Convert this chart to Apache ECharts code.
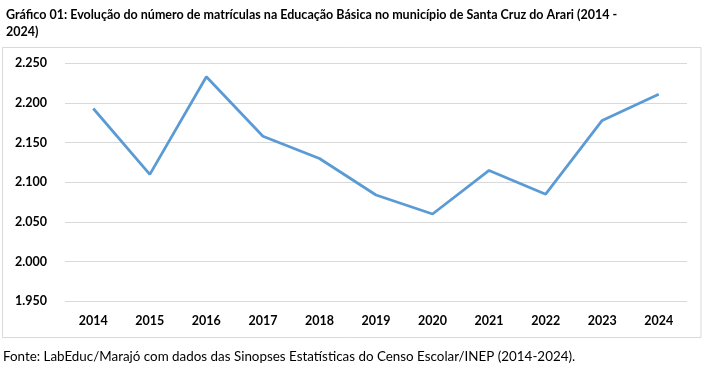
<!DOCTYPE html>
<html>
<head>
<meta charset="utf-8">
<script src="https://cdn.jsdelivr.net/npm/echarts@6/dist/echarts.min.js"></script>
<style>
  html, body { margin: 0; padding: 0; background: #fff; }
  #chart { width: 705px; height: 370px; }
</style>
</head>
<body>
<div id="chart"></div>
<script>
const titleText = 'Gráfico 01: Evolução do número de matrículas na Educação Básica no município de Santa Cruz do Arari (2014 -\n2024)';
const sourceText = 'Fonte: LabEduc/Marajó com dados das Sinopses Estatísticas do Censo Escolar/INEP (2014-2024).';
const years = ['2014','2015','2016','2017','2018','2019','2020','2021','2022','2023','2024'];
const enrollments = [2193, 2110, 2233, 2158, 2130, 2084, 2060, 2115, 2085, 2178, 2211];
const yMin = 1950, yMax = 2250, yStep = 50;

const fmt = v => {
  const s = String(Math.round(v));
  return s.length > 3 ? s.slice(0, s.length - 3) + '.' + s.slice(-3) : s;
};

const chart = echarts.init(document.getElementById('chart'), null, { renderer: 'canvas' });
chart.setOption({
  animation: false,
  backgroundColor: '#ffffff',
  title: {
    text: titleText,
    left: 1,
    top: 1,
    textStyle: { fontFamily: 'Lato', fontWeight: 'bold', fontSize: 12.5, color: '#000', lineHeight: 17 }
  },
  graphic: [
    {
      type: 'rect',
      shape: { x: 2.5, y: 47.5, width: 698.5, height: 290 },
      style: { fill: 'none', stroke: '#d9d9d9', lineWidth: 1 },
      silent: true
    },
    {
      type: 'text',
      left: 3,
      top: 350,
      style: { text: sourceText, fontFamily: 'Lato', fontSize: 13.4, fill: '#000' }
    }
  ],
  grid: { left: 65, right: 18, top: 63.3, height: 238, containLabel: false },
  xAxis: {
    type: 'category',
    data: years,
    boundaryGap: true,
    axisLine: { show: false },
    axisTick: { show: false },
    axisLabel: { margin: 13, fontFamily: 'Lato', fontWeight: 'bold', fontSize: 12.5, color: '#000' }
  },
  yAxis: {
    type: 'value',
    min: yMin,
    max: yMax,
    interval: yStep,
    axisLine: { show: false },
    axisTick: { show: false },
    splitLine: { lineStyle: { color: '#d9d9d9', width: 1 } },
    axisLabel: { margin: 18, formatter: fmt, fontFamily: 'Lato', fontWeight: 'bold', fontSize: 12.5, color: '#000' }
  },
  series: [{
    type: 'line',
    data: enrollments,
    symbol: 'none',
    lineStyle: { color: '#5b9bd5', width: 2.75 },
    itemStyle: { color: '#5b9bd5' }
  }]
});
</script>
</body>
</html>
